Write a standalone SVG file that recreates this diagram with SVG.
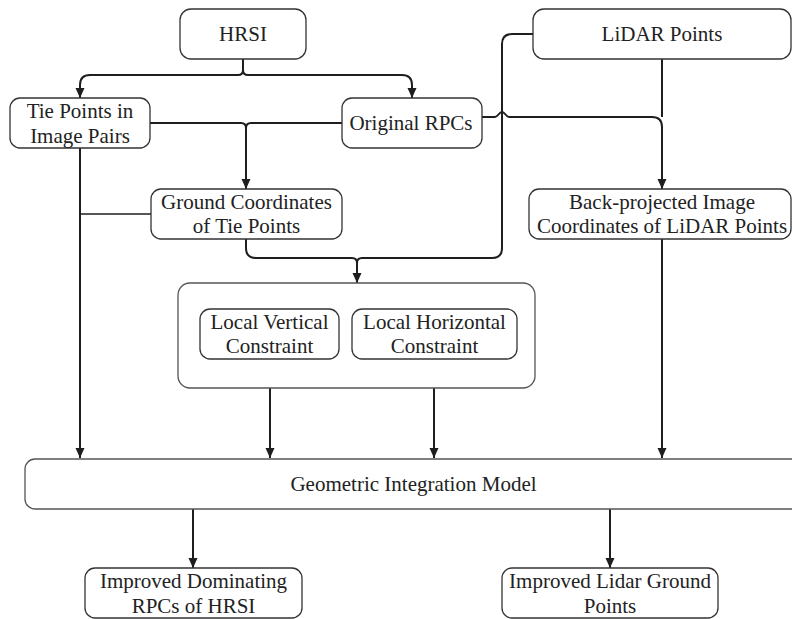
<svg xmlns="http://www.w3.org/2000/svg" width="792" height="619" viewBox="0 0 792 619" font-family="Liberation Serif, Tinos, DejaVu Serif, serif">
<style>
.box{fill:#fff;stroke:#333;stroke-width:1.3}
text{font-family:'Liberation Serif',Tinos,'DejaVu Serif',serif;font-size:21px;fill:#222;text-anchor:middle}
.c{fill:none;stroke:#1e1e1e;stroke-width:2}
.thin{fill:none;stroke:#1e1e1e;stroke-width:1.5}
</style>
<defs>
<marker id="ah" markerUnits="userSpaceOnUse" markerWidth="10" markerHeight="10" refX="10" refY="4.5" orient="auto">
<path d="M0,0 L10,4.5 L0,9 Z" fill="#1e1e1e"/>
</marker>
</defs>
<rect width="792" height="619" fill="#fff"/>
<g id="connectors">
<path class="c" d="M243,59 V70 Q243,75 238,75 H90 Q80,75 80,85 V98" marker-end="url(#ah)"/>
<path class="c" d="M243,70 Q243,75 248,75 H402 Q412,75 412,85 V98" marker-end="url(#ah)"/>
<path class="c" d="M150,123 H241 Q246,123 246,128 V189" marker-end="url(#ah)"/>
<path class="c" d="M342,123 H251 Q246,123 246,128"/>
<path class="c" d="M80,148 V458" marker-end="url(#ah)"/>
<path class="thin" d="M151,214 H80"/>
<path class="c" d="M482,117 H495 C498,117 499,112 502,112 C505,112 506,117 509,117 H652 Q662,117 662,127 V189" marker-end="url(#ah)"/>
<path class="c" d="M662,59 V117"/>
<path class="c" d="M533,34 H512 Q502,34 502,44 V248 Q502,258 492,258 H362 Q357,258 357,263"/>
<path class="c" d="M246,239 V248 Q246,258 256,258 H352 Q357,258 357,263 V283" marker-end="url(#ah)"/>
<path class="c" d="M662,239 V458" marker-end="url(#ah)"/>
<path class="c" d="M270,359 V458" marker-end="url(#ah)"/>
<path class="c" d="M434,359 V458" marker-end="url(#ah)"/>
<path class="c" d="M193,509 V568" marker-end="url(#ah)"/>
<path class="c" d="M610,509 V568" marker-end="url(#ah)"/>
</g>
<g id="hrsi"><rect class="box" x="180" y="9" width="126" height="50" rx="11"/><text x="243" y="41">HRSI</text></g>
<g id="lidar"><rect class="box" x="533" y="9" width="258" height="50" rx="11"/><text x="662" y="41">LiDAR Points</text></g>
<g id="tiepoints"><rect class="box" x="10" y="98" width="140" height="50" rx="10"/><text x="80" y="118">Tie Points in</text><text x="80" y="143">Image Pairs</text></g>
<g id="rpcs"><rect class="box" x="342" y="98" width="140" height="50" rx="10"/><text x="411" y="130">Original RPCs</text></g>
<g id="ground"><rect class="box" x="151" y="189" width="191" height="50" rx="10"/><text x="246.5" y="209">Ground Coordinates</text><text x="246.5" y="233">of Tie Points</text></g>
<g id="backproj"><rect class="box" x="529" y="189" width="262" height="50" rx="10"/><text x="662" y="209">Back-projected Image</text><text x="662" y="233">Coordinates of LiDAR Points</text></g>
<g id="constraints"><rect class="box" x="178" y="283" width="357" height="105" rx="12" style="stroke:#555"/></g>
<g id="vertical"><rect class="box" x="200" y="309" width="139" height="50" rx="10"/><text x="269.5" y="329">Local Vertical</text><text x="269.5" y="353">Constraint</text></g>
<g id="horizontal"><rect class="box" x="352" y="309" width="165" height="50" rx="10"/><text x="434.5" y="329">Local Horizontal</text><text x="434.5" y="353">Constraint</text></g>
<g id="gim"><rect class="box" x="25" y="459" width="777" height="50" rx="10" style="stroke:#555"/><text x="413.5" y="491">Geometric Integration Model</text></g>
<g id="improvedrpc"><rect class="box" x="85" y="568" width="217" height="50" rx="10"/><text x="193.5" y="588">Improved Dominating</text><text x="193.5" y="613">RPCs of HRSI</text></g>
<g id="improvedlidar"><rect class="box" x="502" y="568" width="216" height="50" rx="10"/><text x="610" y="588">Improved Lidar Ground</text><text x="610" y="613">Points</text></g>
</svg>
